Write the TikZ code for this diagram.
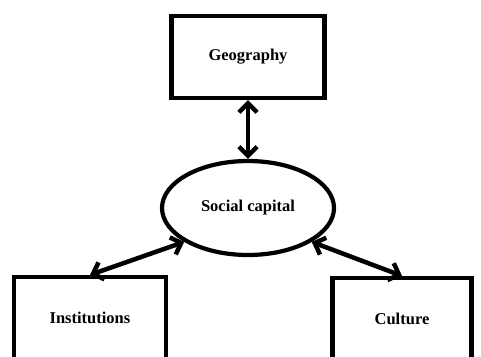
\documentclass[tikz,border=0pt]{standalone}
\usepackage{fontspec}
\setmainfont{Liberation Serif}
\usetikzlibrary{shapes.geometric,arrows.meta}

\tikzset{
  box/.style={draw, line width=4.2pt, rectangle, font=\fontsize{16.5}{19}\selectfont\bfseries},
  hub/.style={draw, line width=4.2pt, ellipse, font=\fontsize{16.5}{19}\selectfont\bfseries},
  link/.style={line width=4.5pt, {Straight Barb[length=9pt,width=18pt]}-{Straight Barb[length=9pt,width=18pt]}},
}

\begin{document}
\begin{tikzpicture}[x=1pt, y=-1pt]
        % --- Cadre de la figure (pixels) ---
        \useasboundingbox (0,0) rectangle (481,356);
        \clip (0,0) rectangle (481,356);

        % --- Noeuds ---
        \node[box, minimum width=153pt, minimum height=82pt] (geo) at (248,57) {Geography};
        \node[hub, minimum width=172pt, minimum height=94pt] (soc) at (248,208) {Social capital};
        \node[box, minimum width=152pt, minimum height=82pt] (inst) at (90,318) {Institutions};
        \node[box, minimum width=139pt, minimum height=82pt] (cult) at (402,319) {Culture};

        % --- Liens ---
        \draw[link] (geo.south) -- (soc.north);
        \draw[link] (inst.north) -- (soc.208);
        \draw[link] (soc.-28) -- (cult.north);
\end{tikzpicture}
\end{document}
